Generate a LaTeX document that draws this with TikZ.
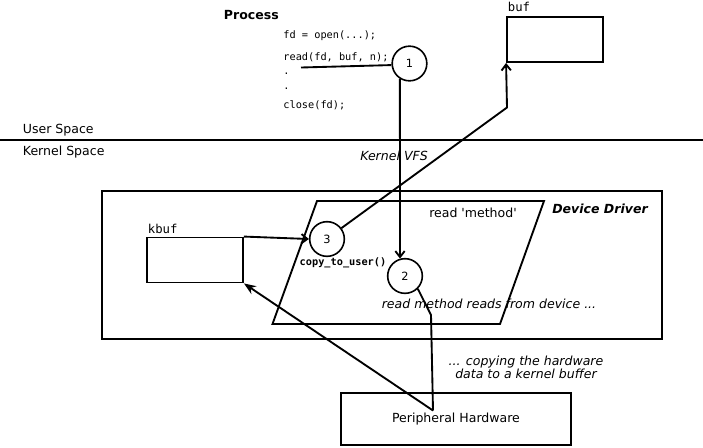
\documentclass[tikz,border=0pt]{standalone}
\usepackage{fontspec}
\setmainfont{DejaVu Sans}
\setmonofont{DejaVu Sans Mono}
\usetikzlibrary{arrows.meta}

\begin{document}
\begin{tikzpicture}[x=0.75pt,y=0.75pt,yscale=-1,xscale=1,
  line width=1.4pt,
  every node/.style={font=\fontsize{9.4}{11}\selectfont, inner sep=0.75pt},
  code/.style={font=\ttfamily\fontsize{7.7}{9}\selectfont, anchor=west},
  buflabel/.style={font=\ttfamily\fontsize{9.2}{11}\selectfont, anchor=south west},
  numcircle/.style={circle, draw, line width=1.2pt, minimum size=26pt, inner sep=0pt, font=\fontsize{8.5}{10}\selectfont},
  membox/.style={draw, minimum width=72pt, minimum height=33.75pt, inner sep=0pt},
  barb/.style={-{Straight Barb[length=4.5pt,width=7pt]}},
  bigtip/.style={-{Stealth[length=9pt,width=7pt]}}]
\useasboundingbox (0,0) rectangle (703,447);

% Process side
\node [anchor=west] (proc) at (222,15.5) {\bfseries Process};
\node [code] (open) at (281.5,36) {fd = open(...);};
\node [code] (read) at (281.5,57) {read(fd, buf, n);};
\node [code] (dota) at (281.5,73.5) {.};
\node [code] (dotb) at (281.5,89) {.};
\node [code] (close) at (281.5,105) {close(fd);};
\node [numcircle] (c1) at (409.5,63.5) {1};
\node [membox] (buf) at (555,39.5) {};
\node [buflabel] (buflbl) at (506,14) {buf};

% User / kernel border
\node [anchor=west] (user) at (21,130.5) {User Space};
\node [anchor=west] (kernel) at (21,152) {Kernel Space};
\draw (0,140) -- (703,140);
\node (vfs) at (394,155.5) {\itshape Kernel VFS};

% Device driver
\node [draw, minimum width=420pt, minimum height=111pt, inner sep=0pt] (driver) at (382,265) {};
\node (drvlbl) at (600,208.5) {\bfseries\itshape Device Driver};
\draw (317,201) -- (544,201) -- (500,324) -- (272.5,324) -- cycle;
\node (method) at (473,213) {read \textquotesingle method\textquotesingle};
\node [membox] (kbuf) at (195,260) {};
\node [buflabel] (kbuflbl) at (146,236) {kbuf};
\node [numcircle] (c3) at (327,239) {3};
\node [code, anchor=center] (ctu) at (343,263) {\bfseries copy\_to\_user()};
\node [numcircle] (c2) at (405,276) {2};
\node (reads) at (489,303.5) {\itshape read method reads from device ...};

% Hardware
\node [draw, minimum width=172pt, minimum height=39.5pt, inner sep=0pt] (hw) at (456,419) {Peripheral Hardware};
\node [align=center] (copying) at (526,367.5) {\itshape ... copying the hardware\\[-1.5pt]\itshape data to a kernel buffer};

% Connections
\coordinate (readend) at (301,67.5);
\coordinate (bufbend) at (507,107.5);
\coordinate (hwbend) at (431,315);
\coordinate (hwtop) at (433,410.5);
\draw (readend) -- (c1.185);
\draw [barb] (c1.238) -- (c2.106);
\draw [barb] (c3.37) -- (bufbend) -- (buf.south west);
\draw [barb] (kbuf.north east) -- (c3.west);
\draw (c2.-45) -- (hwbend) -- (hwtop);
\draw [bigtip] (hwtop) -- (kbuf.south east);

\end{tikzpicture}
\end{document}
